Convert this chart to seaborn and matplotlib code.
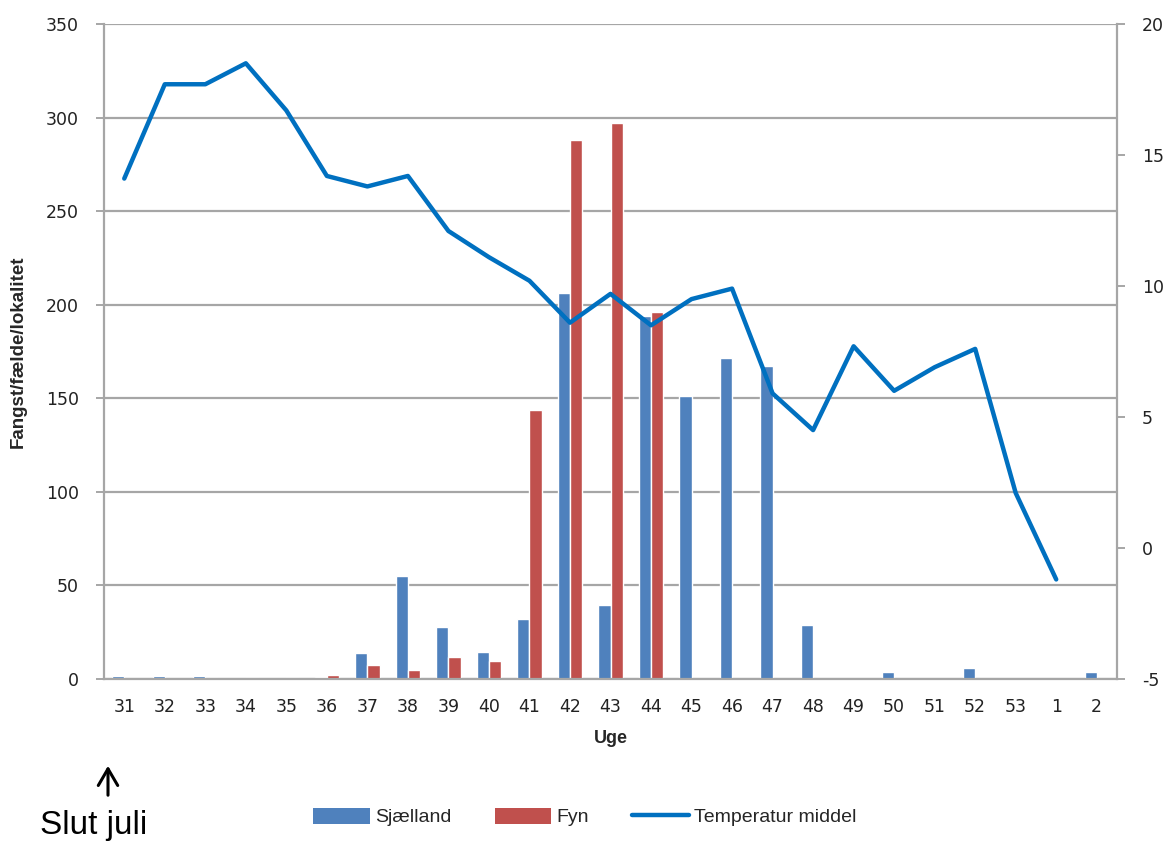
import numpy as np
import pandas as pd
import matplotlib
matplotlib.use("Agg")
import matplotlib.pyplot as plt
import seaborn as sns
from matplotlib.patches import Patch, FancyArrowPatch
from matplotlib.lines import Line2D

# Uger (slut juli -> januar)
weeks = ["31", "32", "33", "34", "35", "36", "37", "38", "39", "40", "41", "42",
         "43", "44", "45", "46", "47", "48", "49", "50", "51", "52", "53", "1", "2"]

# Fangst pr. fælde pr. lokalitet
sjaelland = [1.5, 1.5, 1.5, 0, 0, 1, 14, 55, 28, 14.5, 32, 206, 39.5, 194, 151, 171.5,
             167, 29, 0, 4, 0, 6, 0, 0, 4]
fyn = [0, 0, 0.3, 0.3, 0.3, 2, 7.5, 5, 11.5, 9.5, 143.5, 288, 297, 196, 0, 0,
       0, 0, 0, 0, 0, 0, 0, 0, 0]

# Temperatur middel (ingen måling uge 2)
temp = [14.1, 17.7, 17.7, 18.5, 16.7, 14.2, 13.8, 14.2, 12.1, 11.1, 10.2, 8.6,
        9.7, 8.5, 9.5, 9.9, 5.9, 4.5, 7.7, 6.0, 6.9, 7.6, 2.1, -1.2, np.nan]

regions = ["Sjælland", "Fyn"]
colors = {"Sjælland": "#4F81BD", "Fyn": "#C0504D"}
line_color = "#0070C0"
grid_color = "#A6A6A6"
narrow = ["Liberation Sans Narrow", "Liberation Sans"]

df = pd.DataFrame({
    "Uge": weeks * 2,
    "Fangst": sjaelland + fyn,
    "Region": ["Sjælland"] * len(weeks) + ["Fyn"] * len(weeks),
})

sns.set_style("white")
plt.rcParams["font.family"] = ["DejaVu Sans"]
plt.rcParams["axes.unicode_minus"] = False

fig = plt.figure(figsize=(11.73, 8.41), dpi=100)
ax = fig.add_axes([104 / 1173, 1 - 679 / 841, (1117 - 104) / 1173, (679 - 24) / 841])

sns.barplot(data=df, x="Uge", y="Fangst", hue="Region", order=weeks,
            hue_order=regions, palette=colors, width=0.6, saturation=1,
            ax=ax, legend=False)

ax.set_xlim(-0.5, len(weeks) - 0.5)
ax.set_ylim(0, 350)
ax.set_yticks(np.arange(0, 351, 50))
ax.yaxis.grid(True, color=grid_color, linewidth=1.6)
ax.set_axisbelow(True)

for side in ["left", "bottom"]:
    ax.spines[side].set_color(grid_color)
    ax.spines[side].set_linewidth(1.6)
ax.spines["top"].set_visible(False)
ax.spines["right"].set_visible(False)

# tick-streger mellem kategorierne
ax.set_xticks(np.arange(len(weeks)))
ax.set_xticklabels(weeks)
ax.set_xticks(np.arange(-0.5, len(weeks), 1), minor=True)
ax.tick_params(axis="x", which="major", length=0, pad=14, labelsize=12.5, colors="#222222")
ax.tick_params(axis="x", which="minor", length=6, width=1.4, color=grid_color, direction="out")
ax.tick_params(axis="y", length=6, width=1.4, color=grid_color, direction="out",
               labelsize=12.5, labelcolor="#222222", pad=12)
ax.tick_params(axis="both", left=True, bottom=True)

ax.set_xlabel("Uge", fontsize=13, fontweight="bold", family=narrow, labelpad=10)
ax.set_ylabel("Fangst/fælde/lokalitet", fontsize=13.5, fontweight="bold",
              family=narrow, labelpad=14)

# Temperatur på højre akse
ax2 = ax.twinx()
sns.lineplot(x=np.arange(len(weeks)), y=temp, color=line_color, linewidth=3.2,
             ax=ax2, legend=False)
ax2.set_ylim(-5, 20)
ax2.set_yticks(np.arange(-5, 21, 5))
ax2.set_xlim(-0.5, len(weeks) - 0.5)
for side in ["left", "top", "bottom"]:
    ax2.spines[side].set_visible(False)
ax2.spines["right"].set_color(grid_color)
ax2.spines["right"].set_linewidth(1.6)
ax2.tick_params(axis="y", length=6, width=1.4, color=grid_color, direction="out",
                labelsize=12.5, labelcolor="#222222", pad=12, right=True)
ax2.grid(False)

# Forklaring
handles = [
    Patch(facecolor=colors["Sjælland"], edgecolor="none"),
    Patch(facecolor=colors["Fyn"], edgecolor="none"),
    Line2D([0], [0], color=line_color, linewidth=3.2),
]
fig.legend(handles, ["Sjælland", "Fyn", "Temperatur middel"], loc="center",
           bbox_to_anchor=(585 / 1173, 1 - 817 / 841), ncol=3, frameon=False,
           handlelength=2.9, handleheight=0.9, columnspacing=2.2, handletextpad=0.3,
           prop={"family": narrow, "size": 14})

# Slut juli markering
fig.text(40 / 1173, 1 - 834 / 841, "Slut juli", fontsize=24, family=narrow,
         color="black", ha="left", va="baseline")
fig.add_artist(FancyArrowPatch(
    (108 / 1173, 1 - 798 / 841), (108 / 1173, 1 - 763 / 841),
    transform=fig.transFigure, arrowstyle="->,head_length=0.6,head_width=0.35",
    mutation_scale=20, color="black", linewidth=2.2))

fig.savefig("out.png", dpi=100)
